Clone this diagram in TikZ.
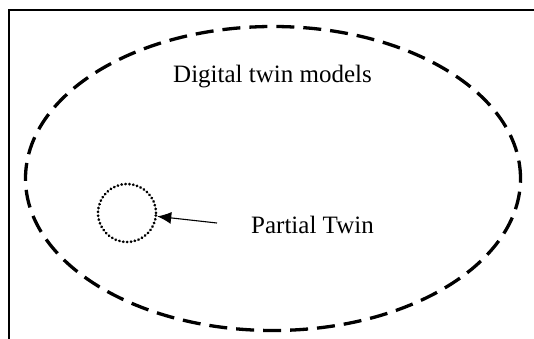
\documentclass[tikz,border=0pt]{standalone}
\usepackage{fontspec}
\setmainfont{Liberation Serif}
\usetikzlibrary{shapes.geometric,arrows.meta}
\begin{document}
\begin{tikzpicture}[x=1pt,y=-1pt,
  frameline/.style={line width=2.6pt},
  outerset/.style={draw,ellipse,line width=3.3pt,dash pattern=on 18pt off 9pt,minimum width=495pt,minimum height=304pt,inner sep=0pt},
  partset/.style={draw,circle,line width=2.8pt,line cap=round,dash pattern=on 0.3pt off 3.6pt,minimum size=58pt,inner sep=0pt},
  lbl/.style={font=\fontsize{25}{30}\selectfont,inner sep=0pt,anchor=base west},
  pointer/.style={line width=1.1pt,-{Latex[length=14pt,width=12pt]}}
]
\useasboundingbox (0,0) rectangle (534,338);
\coordinate (fa) at (9,360);
\coordinate (fb) at (9,10);
\coordinate (fc) at (560,10);
\draw[frameline] (fa) -- (fb) -- (fc);
\node[outerset] (dt) at (273,178.5) {};
\node[lbl] (dtl) at (173,82) {Digital twin models};
\node[partset] (pt) at (127,213) {};
\node[lbl] (ptl) at (251,233) {Partial Twin};
\coordinate (as) at (217,223);
\draw[pointer] (as) -- (pt);
\end{tikzpicture}
\end{document}
